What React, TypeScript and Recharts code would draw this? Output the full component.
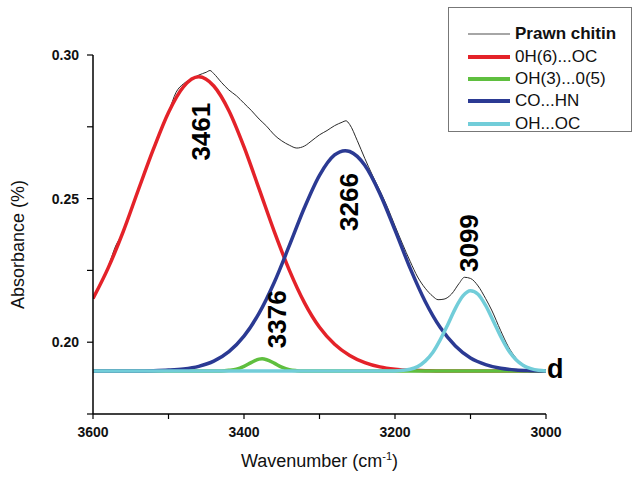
import { LineChart, Line, XAxis, YAxis, Legend, ReferenceDot } from 'recharts';

const FONT = '"Liberation Sans", Arial, sans-serif';

// measured spectrum (Prawn chitin)
const chitinWn = [
    3600, 3590, 3580, 3570, 3560, 3550, 3540, 3530, 3520, 3510, 3500, 3490, 3480, 3470, 3460, 3450,
    3445, 3440, 3430, 3420, 3410, 3400, 3390, 3380, 3370, 3360, 3350, 3340, 3330, 3320, 3310, 3300,
    3290, 3280, 3270, 3265, 3260, 3250, 3240, 3230, 3220, 3210, 3200, 3190, 3180, 3170, 3160, 3150,
    3143, 3135, 3125, 3115, 3108, 3100, 3090, 3080, 3072, 3060, 3050, 3040, 3030, 3020, 3010, 3000,
];
const chitinAbs = [
    0.215, 0.22, 0.2262, 0.2335, 0.2383, 0.246, 0.253, 0.2603, 0.267, 0.2738, 0.28, 0.287, 0.29, 0.2915, 0.293, 0.294,
    0.2946, 0.2935, 0.2905, 0.2878, 0.2858, 0.2832, 0.2806, 0.2777, 0.2752, 0.2722, 0.2701, 0.2686, 0.2676, 0.2683, 0.2702, 0.2722,
    0.2737, 0.2754, 0.2766, 0.2771, 0.2758, 0.2702, 0.264, 0.2582, 0.2528, 0.247, 0.2405, 0.2342, 0.2282, 0.2227, 0.2188, 0.216,
    0.2148, 0.215, 0.2168, 0.2205, 0.2226, 0.2222, 0.2196, 0.2152, 0.2112, 0.204, 0.1985, 0.1946, 0.1922, 0.1908, 0.1902, 0.19,
];

// fitted bands
const redWn = [3600, 3580, 3560, 3540, 3520, 3500, 3480, 3460, 3440, 3420, 3400, 3380, 3360, 3340, 3320, 3300, 3280, 3260, 3240, 3220, 3200, 3180, 3160, 3140, 3000];
const redAbs = [0.2152, 0.2258, 0.2385, 0.253, 0.2672, 0.28, 0.289, 0.2924, 0.2892, 0.2806, 0.268, 0.2534, 0.2386, 0.2251, 0.2138, 0.2052, 0.1993, 0.1954, 0.1929, 0.1914, 0.1906, 0.1902, 0.1901, 0.19, 0.19];

const greenWn = [3600, 3440, 3430, 3420, 3410, 3400, 3390, 3380, 3376, 3370, 3360, 3350, 3340, 3330, 3320, 3000];
const greenAbs = [0.19, 0.19, 0.19, 0.1902, 0.1906, 0.1916, 0.193, 0.1941, 0.1942, 0.1939, 0.1927, 0.1913, 0.1904, 0.1901, 0.19, 0.19];

const blueWn = [3600, 3560, 3540, 3520, 3500, 3480, 3460, 3440, 3420, 3400, 3380, 3360, 3340, 3320, 3300, 3280, 3266, 3260, 3240, 3220, 3200, 3180, 3160, 3140, 3120, 3100, 3080, 3060, 3040, 3020, 3000];
const blueAbs = [0.19, 0.19, 0.19, 0.1901, 0.1903, 0.1907, 0.1916, 0.1934, 0.1967, 0.2021, 0.2101, 0.2208, 0.2336, 0.2468, 0.2581, 0.2652, 0.2667, 0.2664, 0.2616, 0.2517, 0.239, 0.2258, 0.2142, 0.2051, 0.1987, 0.1945, 0.1922, 0.1909, 0.1903, 0.1901, 0.19];

const cyanWn = [3600, 3200, 3190, 3180, 3170, 3160, 3150, 3140, 3130, 3120, 3110, 3100, 3090, 3080, 3070, 3060, 3050, 3040, 3030, 3020, 3010, 3000];
const cyanAbs = [0.19, 0.19, 0.1902, 0.1906, 0.1915, 0.1934, 0.1964, 0.2009, 0.2062, 0.2118, 0.2161, 0.2179, 0.2167, 0.2128, 0.2075, 0.202, 0.1973, 0.194, 0.1919, 0.1908, 0.1902, 0.19];

const seriesNames = ['Prawn chitin', '0H(6)...OC', 'OH(3)...0(5)', 'CO...HN', 'OH...OC'];
const seriesColors = ['#2a2a2a', '#e42229', '#5fbf3f', '#2b3a93', '#72cdd9'];

const peakNames = ['3461', '3376', '3266', '3099'];
const xTicks = [3600, 3500, 3400, 3300, 3200, 3100, 3000];
const yTicks = [0.175, 0.2, 0.225, 0.25, 0.275, 0.3];

const toRows = (wn: number[], abs: number[]) => wn.map((w, i) => ({ w, v: abs[i] }));

const series = [
    toRows(chitinWn, chitinAbs),
    toRows(redWn, redAbs),
    toRows(greenWn, greenAbs),
    toRows(blueWn, blueAbs),
    toRows(cyanWn, cyanAbs),
];

// where each peak number sits (data units)
const peakSpots = [
    { x: 3457, y: 0.2733 },
    { x: 3356, y: 0.208 },
    { x: 3261, y: 0.2488 },
    { x: 3102, y: 0.2345 },
];

const rotatedText = (text: string) => (props: any) => {
    const { viewBox } = props;
    const cx = viewBox.x + viewBox.width / 2;
    const cy = viewBox.y + viewBox.height / 2;
    return (
        <text
            x={cx}
            y={cy}
            transform={`rotate(-90 ${cx} ${cy})`}
            textAnchor="middle"
            dominantBaseline="central"
            fontSize={26}
            fontWeight="bold"
            fontFamily={FONT}
            fill="#000"
        >
            {text}
        </text>
    );
};

const panelLetter = (props: any) => {
    const { viewBox } = props;
    const cx = viewBox.x + viewBox.width / 2;
    const cy = viewBox.y + viewBox.height / 2;
    return (
        <text x={cx + 1} y={cy + 7} fontSize={27} fontWeight="bold" fontFamily={FONT} fill="#000">
            d
        </text>
    );
};

const yTitle = (props: any) => {
    const { viewBox } = props;
    const cy = viewBox.y + viewBox.height / 2 + 10;
    return (
        <text
            x={18}
            y={cy}
            transform={`rotate(-90 18 ${cy})`}
            textAnchor="middle"
            dominantBaseline="central"
            fontSize={18}
            fontFamily={FONT}
            fill="#111"
        >
            Absorbance (%)
        </text>
    );
};

const xTitle = (props: any) => {
    const { viewBox } = props;
    const cx = viewBox.x + viewBox.width / 2;
    return (
        <text x={cx} y={467} textAnchor="middle" fontSize={18} fontFamily={FONT} fill="#111">
            Wavenumber (cm
            <tspan dy={-7} fontSize={11}>
                -1
            </tspan>
            <tspan dy={7}>)</tspan>
        </text>
    );
};

const LegendBox = () => (
    <div
        style={{
            border: '1.5px solid #777',
            background: '#fff',
            width: 184,
            height: 125,
            boxSizing: 'border-box',
            paddingTop: 15,
            fontFamily: FONT,
        }}
    >
        {seriesNames.map((name, i) => (
            <div key={name} style={{ display: 'flex', alignItems: 'center', height: 22.4, whiteSpace: 'nowrap' }}>
                <svg width={48} height={10} style={{ marginLeft: 18, flex: 'none' }}>
                    <line
                        x1={1}
                        y1={5}
                        x2={43}
                        y2={5}
                        stroke={i === 0 ? '#888' : seriesColors[i]}
                        strokeWidth={i === 0 ? 1.5 : 4}
                    />
                </svg>
                <span style={{ fontSize: 17, fontWeight: i === 0 ? 'bold' : 'normal', color: '#111' }}>{name}</span>
            </div>
        ))}
    </div>
);

const tickStyle = { fill: '#111', fontSize: 14, fontWeight: 'bold', fontFamily: FONT };

const App = () => {
    return (
        <div style={{ position: 'absolute', left: 0, top: 0, width: 640, height: 478, background: '#fff' }}>
            <LineChart width={640} height={478} margin={{ top: 55, right: 94, left: 0, bottom: 0 }}>
                <XAxis
                    type="number"
                    dataKey="w"
                    domain={[3000, 3600]}
                    reversed
                    ticks={xTicks}
                    interval={0}
                    allowDataOverflow
                    height={64}
                    tickSize={5}
                    tickMargin={8}
                    tickFormatter={(v: number) => (v % 200 === 0 ? String(v) : '')}
                    tick={tickStyle}
                    axisLine={{ stroke: '#000', strokeWidth: 1.5 }}
                    tickLine={{ stroke: '#000', strokeWidth: 1.2 }}
                    label={xTitle}
                />
                <YAxis
                    type="number"
                    domain={[0.175, 0.3]}
                    ticks={yTicks}
                    interval={0}
                    allowDataOverflow
                    width={93}
                    tickSize={6}
                    tickMargin={8}
                    tickFormatter={(v: number) => (Math.round(v * 1000) % 50 === 0 ? v.toFixed(2) : '')}
                    tick={tickStyle}
                    axisLine={{ stroke: '#000', strokeWidth: 1.5 }}
                    tickLine={{ stroke: '#000', strokeWidth: 1.2 }}
                    label={yTitle}
                />
                {series.map((rows, i) => (
                    <Line
                        key={seriesNames[i]}
                        data={rows}
                        dataKey="v"
                        name={seriesNames[i]}
                        type="monotone"
                        stroke={seriesColors[i]}
                        strokeWidth={i === 0 ? 1 : 3.5}
                        dot={false}
                        activeDot={false}
                        isAnimationActive={false}
                    />
                ))}
                {peakNames.map((p, i) => (
                    <ReferenceDot
                        key={p}
                        x={peakSpots[i].x}
                        y={peakSpots[i].y}
                        r={1}
                        fill="none"
                        stroke="none"
                        label={rotatedText(p)}
                    />
                ))}
                <ReferenceDot x={3000} y={0.19} r={1} fill="none" stroke="none" label={panelLetter} />
                <Legend
                    layout="vertical"
                    align="center"
                    verticalAlign="middle"
                    wrapperStyle={{ top: 7, left: 448, width: 184, height: 125 }}
                    content={() => <LegendBox />}
                />
            </LineChart>
        </div>
    );
};

export default App;
